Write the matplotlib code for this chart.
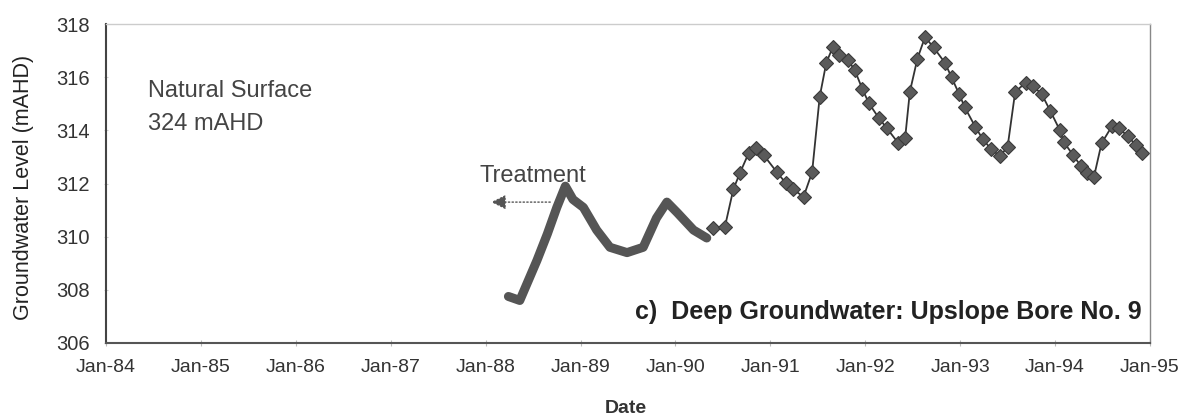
import matplotlib
matplotlib.use("Agg")
import matplotlib.pyplot as plt
import numpy as np

plt.rcParams['font.family'] = ['Liberation Sans', 'DejaVu Sans']

# Early record (before 1990.4) - drawn as a heavy band
early_year = [1988.24, 1988.36, 1988.54, 1988.65, 1988.75, 1988.84, 1988.92,
              1989.03, 1989.17, 1989.31, 1989.49, 1989.66, 1989.80, 1989.91,
              1990.02, 1990.19, 1990.33]
early_level = [307.75, 307.6, 309.1, 310.1, 311.1, 311.9, 311.4,
               311.1, 310.25, 309.6, 309.4, 309.6, 310.7, 311.3,
               310.9, 310.25, 309.95]

# Monitored bore readings
bore_year = [1990.40, 1990.52, 1990.61, 1990.68, 1990.77, 1990.85, 1990.93,
             1991.07, 1991.16, 1991.24, 1991.35, 1991.44, 1991.52, 1991.59,
             1991.66, 1991.72, 1991.82, 1991.89, 1991.97, 1992.04, 1992.14,
             1992.23, 1992.35, 1992.42, 1992.47, 1992.55, 1992.63, 1992.72,
             1992.84, 1992.91, 1992.99, 1993.05, 1993.16, 1993.24, 1993.33,
             1993.42, 1993.50, 1993.58, 1993.69, 1993.77, 1993.86, 1993.95,
             1994.05, 1994.09, 1994.19, 1994.27, 1994.34, 1994.41, 1994.49,
             1994.60, 1994.67, 1994.77, 1994.85, 1994.92]
bore_level = [310.31, 310.35, 311.78, 312.40, 313.13, 313.34, 313.07,
              312.42, 312.03, 311.78, 311.50, 312.42, 315.26, 316.55,
              317.14, 316.85, 316.64, 316.26, 315.55, 315.01, 314.48,
              314.07, 313.51, 313.70, 315.45, 316.70, 317.51, 317.12,
              316.54, 315.99, 315.36, 314.86, 314.13, 313.66, 313.28,
              313.03, 313.38, 315.45, 315.79, 315.66, 315.36, 314.73,
              314.01, 313.57, 313.07, 312.67, 312.38, 312.25, 313.51,
              314.16, 314.07, 313.78, 313.44, 313.13]

tick_years = list(range(1984, 1996))
tick_labels = ["Jan-%02d" % (y % 100) for y in tick_years]
y_ticks = [306, 308, 310, 312, 314, 316, 318]

fig = plt.figure(figsize=(11.86, 4.17), dpi=100)
ax = fig.add_axes([0.0894, 0.1775, 0.8802, 0.7649])

ax.plot(early_year, early_level, color='#555555', lw=6.5,
        solid_capstyle='round', solid_joinstyle='round')
ax.plot(bore_year, bore_level, color='#333333', lw=1.3, marker='D',
        markersize=7.5, markerfacecolor='#5a5a5a', markeredgecolor='#3a3a3a',
        markeredgewidth=0.8)

ax.set_xlim(1984, 1995)
ax.set_ylim(306, 318)
ax.set_xticks(tick_years)
ax.set_xticklabels(tick_labels)
ax.set_yticks(y_ticks)

ax.tick_params(axis='x', direction='inout', length=5, color='#bbbbbb',
               labelsize=14, labelcolor='#333333', pad=9)
ax.tick_params(axis='y', direction='inout', length=3, color='#cccccc',
               labelsize=14.5, labelcolor='#333333', pad=10)

ax.spines['left'].set_color('#444444')
ax.spines['left'].set_linewidth(1.5)
ax.spines['bottom'].set_color('#555555')
ax.spines['bottom'].set_linewidth(1.5)
ax.spines['top'].set_color('#cccccc')
ax.spines['top'].set_linewidth(1.0)
ax.spines['right'].set_color('#888888')
ax.spines['right'].set_linewidth(1.0)

ax.set_ylabel("Groundwater Level (mAHD)", fontsize=15.5, color='#222222')
ax.yaxis.set_label_coords(-0.069, 0.489)
ax.set_xlabel("Date", fontsize=14, fontweight='bold', color='#333333')
ax.xaxis.set_label_coords(0.498, -0.178)

ax.text(0.0402, 0.79, "Natural Surface", transform=ax.transAxes,
        fontsize=17, color='#444444', va='center', ha='left')
ax.text(0.0402, 0.6865, "324 mAHD", transform=ax.transAxes,
        fontsize=17, color='#444444', va='center', ha='left')

ax.text(0.9923, 0.0956, "c)  Deep Groundwater: Upslope Bore No. 9",
        transform=ax.transAxes, fontsize=18, fontweight='bold',
        color='#222222', va='center', ha='right')

# Treatment annotation with arrow pointing back in time
ax.text(1988.50, 312.3, "Treatment", fontsize=17, color='#444444',
        ha='center', va='center')
ax.annotate("", xy=(1988.03, 311.3), xytext=(1988.71, 311.3),
            arrowprops=dict(arrowstyle='-|>', color='#555555', lw=1.0,
                            linestyle=':', mutation_scale=22))

fig.savefig("out.png", dpi=100)
